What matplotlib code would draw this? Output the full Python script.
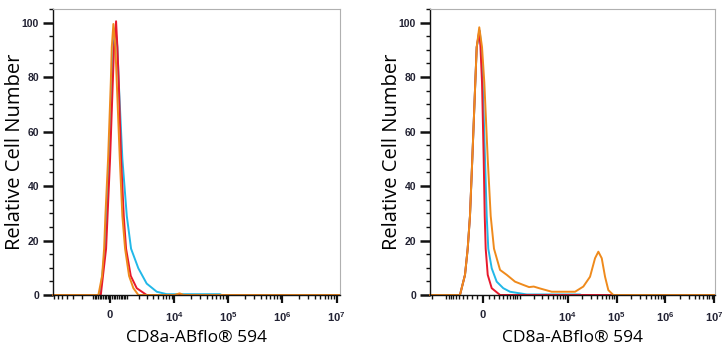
import matplotlib
matplotlib.use("Agg")
import matplotlib.pyplot as plt
from matplotlib.ticker import FixedLocator, MultipleLocator, NullFormatter

# --- data (fluorescence value, % of max) ---
left_orange_x = [-7300, -675, -451, -335, -262, -111, 39, 94, 183, 296, 376, 552, 711, 888,
                 1169, 1511, 1971, 10000, 12500, 15000, 11600000]
left_orange_y = [0, 0, 7, 17, 29, 50, 78, 91, 99.5, 91, 78, 50, 29, 17, 7, 2.5, 0, 0, 0.6, 0, 0]

left_red_x = [-7300, -528, -222, 0, 150, 222, 335, 411, 492, 631, 801, 955, 1299, 1812,
              2950, 11600000]
left_red_y = [0, 0, 17, 50, 78, 91, 100.5, 91, 78, 50, 29, 17, 7, 2.5, 0, 0]

left_cyan_x = [-7300, -571, -279, -39, 111, 183, 296, 411, 492, 711, 1005, 1322, 1971, 2950,
               4650, 7200, 70000, 75000, 11600000]
left_cyan_y = [0, 0, 17, 50, 78, 91, 98, 91, 78, 50, 29, 17, 9.8, 4.2, 1.2, 0.3, 0.3, 0, 0]

right_orange_x = [-2230, -484, -352, -290, -241, -194, -137, -111, -65, -17, 23, 83, 137, 200,
                  330, 505, 794, 1207, 1600, 2000, 2701, 4708, 14170, 20920, 28700, 36350,
                  42470, 49850, 58270, 68040, 86120, 10400000]
right_orange_y = [0, 0, 7.4, 17, 29, 50, 78, 91, 98.3, 91, 78, 50, 29, 17,
                  9.2, 7.4, 4.9, 3.7, 2.9, 3.1, 2.4, 1.2, 1.2, 3.1, 6.7, 13.5,
                  15.9, 13.5, 6.7, 1.8, 0, 0]

right_red_x = [-2230, -484, -352, -290, -241, -194, -137, -111, -65, -44, -17, 12, 30, 47, 83,
               156, 330, 10400000]
right_red_y = [0, 0, 7.4, 17, 29, 50, 78, 91, 97, 91, 78, 50, 29, 17, 7.4, 2.5, 0, 0]

right_cyan_x = [-2230, -484, -352, -290, -241, -194, -137, -111, -58, -30, -5, 35, 65, 93, 156,
                255, 409, 607, 1424, 17900, 19000, 10400000]
right_cyan_y = [0, 0, 7.4, 17, 29, 50, 78, 91, 97, 90.7, 78.4, 50, 29, 17, 9.8,
                4.9, 2.5, 1.2, 0.2, 0.2, 0, 0]

tick_vals = [0, 1e4, 1e5, 1e6, 1e7]
tick_labels = ["0", "$10^4$", "$10^5$", "$10^6$", "$10^7$"]
xlabel = "CD8a-ABflo® 594"
ylabel = "Relative Cell Number"

RED = "#e8192c"
CYAN = "#22b8e8"
ORANGE = "#ef8a1c"

plt.rcParams["mathtext.default"] = "regular"

fig = plt.figure(figsize=(7.25, 3.5), dpi=100)
ax1 = fig.add_axes([53 / 725, 55 / 350, 287 / 725, 286 / 350])
ax2 = fig.add_axes([430 / 725, 55 / 350, 285 / 725, 286 / 350])

panels = [
    (ax1, 1300, (-7330, 1.16e7), 287,
     [(left_cyan_x, left_cyan_y, CYAN), (left_red_x, left_red_y, RED),
      (left_orange_x, left_orange_y, ORANGE)]),
    (ax2, 369, (-2230, 1.04e7), 285,
     [(right_cyan_x, right_cyan_y, CYAN), (right_red_x, right_red_y, RED),
      (right_orange_x, right_orange_y, ORANGE)]),
]

# minor ticks: linear steps inside every decade, both signs
minor = []
for d in [100, 1000, 10000, 100000, 1000000]:
    for k in range(1, 10):
        minor.append(k * d)
        minor.append(-k * d)

for ax, width, xlim, wpx, curves in panels:
    ax.set_xscale("asinh", linear_width=width)
    for xs, ys, col in curves:
        ax.plot(xs, ys, color=col, lw=1.4, solid_joinstyle="round", clip_on=False)
    ax.set_xlim(*xlim)
    ax.set_ylim(0, 105)

    ax.xaxis.set_major_locator(FixedLocator(tick_vals))
    ax.set_xticklabels(tick_labels)
    ax.xaxis.set_minor_locator(FixedLocator([m for m in minor if xlim[0] < m < xlim[1]]))
    ax.xaxis.set_minor_formatter(NullFormatter())
    ax.yaxis.set_major_locator(MultipleLocator(20))
    ax.yaxis.set_minor_locator(MultipleLocator(5))

    ax.tick_params(axis="y", which="major", direction="out", length=7, width=1.8,
                   colors="#111111", labelsize=7.5, pad=3)
    ax.tick_params(axis="x", which="major", direction="out", length=6, width=1.6,
                   colors="#111111", labelsize=8, pad=5)
    ax.tick_params(axis="both", which="minor", direction="out", length=3, width=1.0,
                   colors="#111111")
    for lab in ax.get_xticklabels() + ax.get_yticklabels():
        lab.set_fontfamily("Liberation Sans")
        lab.set_fontweight("bold")
        lab.set_color("#222233")

    for side in ["top", "right"]:
        ax.spines[side].set_color("#b0b0b0")
        ax.spines[side].set_linewidth(0.8)
    for side in ["left", "bottom"]:
        ax.spines[side].set_color("#111111")
        ax.spines[side].set_linewidth(1.0)

    ax.set_xlabel(xlabel, fontfamily="Open Sans", fontsize=12.5, labelpad=4)
    ax.set_ylabel(ylabel, fontfamily="Open Sans", fontsize=14.5, va="center")
    ax.yaxis.set_label_coords(-38 / wpx, 0.5)

fig.savefig("out.png", dpi=100)
